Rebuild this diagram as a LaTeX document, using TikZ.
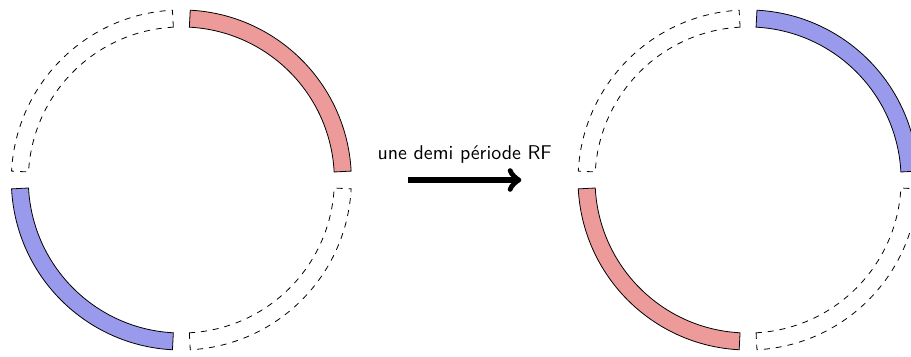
\documentclass[tikz,border=0pt]{standalone}
\usetikzlibrary{positioning}
\definecolor{rfred}{RGB}{236,154,154}
\definecolor{rfblue}{RGB}{154,154,236}

\begin{document}
\begin{tikzpicture}[
  full/.style={draw=black},
  empty/.style={draw=black, dashed},
  redpart/.style={full, fill=rfred},
  bluepart/.style={full, fill=rfblue},
]
\useasboundingbox (-3.2,-3.106) rectangle (12.875,3.176);

% ring before
\draw[redpart]  (3:2.7) -- (3:3) arc (3:87:3) -- (87:2.7) arc (87:3:2.7) -- cycle;
\draw[empty]    (93:2.7) -- (93:3) arc (93:177:3) -- (177:2.7) arc (177:93:2.7) -- cycle;
\draw[bluepart] (183:2.7) -- (183:3) arc (183:267:3) -- (267:2.7) arc (267:183:2.7) -- cycle;
\draw[empty]    (273:2.7) -- (273:3) arc (273:357:3) -- (357:2.7) arc (357:273:2.7) -- cycle;

% ring after
\begin{scope}[shift={(10,0)}]
\draw[bluepart] (3:2.7) -- (3:3) arc (3:87:3) -- (87:2.7) arc (87:3:2.7) -- cycle;
\draw[empty]    (93:2.7) -- (93:3) arc (93:177:3) -- (177:2.7) arc (177:93:2.7) -- cycle;
\draw[redpart]  (183:2.7) -- (183:3) arc (183:267:3) -- (267:2.7) arc (267:183:2.7) -- cycle;
\draw[empty]    (273:2.7) -- (273:3) arc (273:357:3) -- (357:2.7) arc (357:273:2.7) -- cycle;
\end{scope}

\coordinate (start) at (4.0,0.0);
\coordinate (stop)  at (6.0,0.0);
\draw [->, line width=3pt] (start) -- node [above=0.12cm] (halfrf) {\sffamily une demi période RF} (stop);

\end{tikzpicture}
\end{document}
